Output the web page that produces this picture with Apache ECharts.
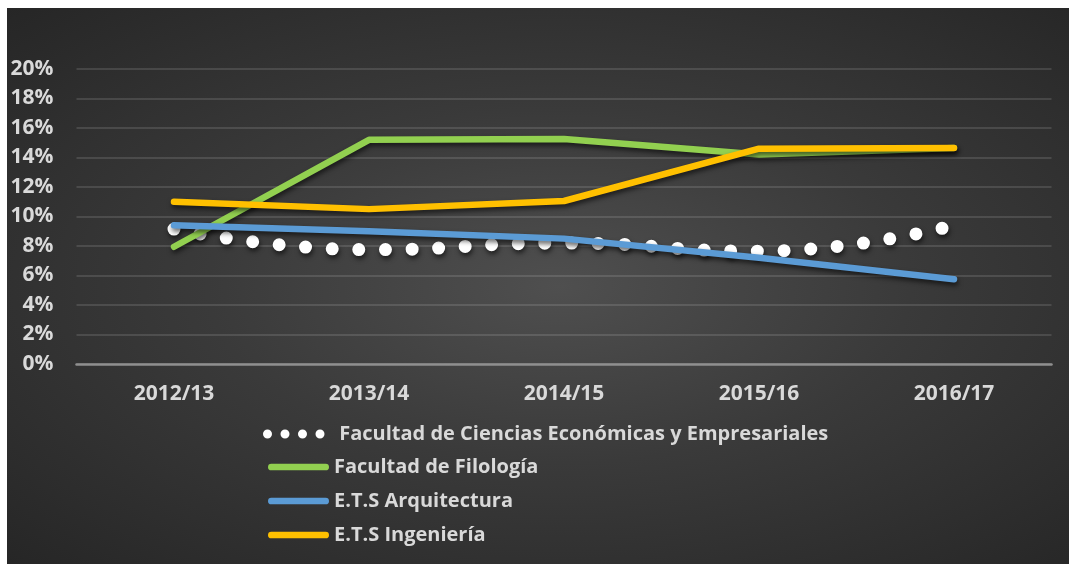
<!DOCTYPE html>
<html>
<head>
<meta charset="utf-8">
<script src="https://cdn.jsdelivr.net/npm/echarts@6/dist/echarts.min.js"></script>
<style>
  html, body { margin: 0; padding: 0; background: #ffffff; }
  #chart {
    position: absolute; left: 7px; top: 8px; width: 1062px; height: 556px;
    background: radial-gradient(ellipse at 52% 50%, #4f4f4f 0%, #3a3a3a 45%, #262626 100%);
  }
</style>
</head>
<body>
<div id="chart"></div>
<script>
const categories = ['2012/13', '2013/14', '2014/15', '2015/16', '2016/17'];
const seriesNames = [
  'Facultad de Ciencias Económicas y Empresariales',
  'Facultad de Filología',
  'E.T.S Arquitectura',
  'E.T.S Ingeniería'
];
const economicas = [9.15, 7.75, 8.2, 7.65, 9.4];
const filologia = [7.95, 15.2, 15.25, 14.2, 14.65];
const arquitectura = [9.4, 9.0, 8.5, 7.2, 5.75];
const ingenieria = [11.0, 10.5, 11.05, 14.6, 14.65];
const yTicks = { min: 0, max: 20, interval: 2 };

const colors = ['#ffffff', '#92d050', '#5b9bd5', '#ffc000'];
const shadow = { shadowColor: 'rgba(0,0,0,0.6)', shadowBlur: 5, shadowOffsetX: 1, shadowOffsetY: 3 };
const font = '"Open Sans", "Noto Sans", sans-serif';

const dotsIcon = 'path://M0,4.5a4.5,4.5 0 1,0 9,0a4.5,4.5 0 1,0 -9,0Z' +
  'M17.5,4.5a4.5,4.5 0 1,0 9,0a4.5,4.5 0 1,0 -9,0Z' +
  'M35,4.5a4.5,4.5 0 1,0 9,0a4.5,4.5 0 1,0 -9,0Z' +
  'M52.5,4.5a4.5,4.5 0 1,0 9,0a4.5,4.5 0 1,0 -9,0Z';
const barIcon = 'path://M3.5,0H60.5A3.5,3.5 0 0 1 60.5,7H3.5A3.5,3.5 0 0 1 3.5,0Z';

const legendText = { color: '#d9d9d9', fontSize: 20, fontWeight: 'bold', fontFamily: font, lineHeight: 20 };

const chart = echarts.init(document.getElementById('chart'), null, { renderer: 'canvas' });
chart.setOption({
  backgroundColor: 'transparent',
  animation: false,
  grid: { left: 69.5, right: 17.5, top: 61, bottom: 200, containLabel: false },
  legend: [
    {
      orient: 'vertical', left: 256, top: 416, padding: 0,
      itemWidth: 81, itemHeight: 9, itemGap: 14,
      textStyle: legendText,
      data: [{ name: seriesNames[0], icon: dotsIcon }]
    },
    {
      orient: 'vertical', left: 261, top: 449, padding: 0,
      itemWidth: 61, itemHeight: 7, itemGap: 14,
      textStyle: legendText,
      data: seriesNames.slice(1).map(n => ({ name: n, icon: barIcon }))
    }
  ],
  xAxis: {
    type: 'category', data: categories, boundaryGap: true,
    axisLine: { show: true, lineStyle: { color: '#8f8f8f', width: 2.5 } },
    axisTick: { show: false },
    axisLabel: { color: '#d9d9d9', fontSize: 21, fontWeight: 'bold', fontFamily: font, margin: 20 }
  },
  yAxis: {
    type: 'value', min: yTicks.min, max: yTicks.max, interval: yTicks.interval,
    axisLine: { show: false }, axisTick: { show: false },
    axisLabel: { color: '#d9d9d9', fontSize: 21, fontWeight: 'bold', fontFamily: font, margin: 23,
      formatter: v => v + '%' },
    splitLine: { lineStyle: { color: 'rgba(255,255,255,0.12)', width: 2 } }
  },
  series: [
    {
      name: seriesNames[0], type: 'line', data: economicas, smooth: true,
      showSymbol: false, symbol: 'none', color: colors[0],
      lineStyle: Object.assign({ color: colors[0], width: 13, type: [0, 26.6], cap: 'round' }, shadow)
    },
    {
      name: seriesNames[1], type: 'line', data: filologia, showSymbol: false, symbol: 'none', color: colors[1],
      lineStyle: Object.assign({ color: colors[1], width: 6.5, cap: 'round', join: 'round' }, shadow)
    },
    {
      name: seriesNames[2], type: 'line', data: arquitectura, showSymbol: false, symbol: 'none', color: colors[2],
      lineStyle: Object.assign({ color: colors[2], width: 6.5, cap: 'round', join: 'round' }, shadow)
    },
    {
      name: seriesNames[3], type: 'line', data: ingenieria, showSymbol: false, symbol: 'none', color: colors[3],
      lineStyle: Object.assign({ color: colors[3], width: 6.5, cap: 'round', join: 'round' }, shadow)
    }
  ]
});
</script>
</body>
</html>
